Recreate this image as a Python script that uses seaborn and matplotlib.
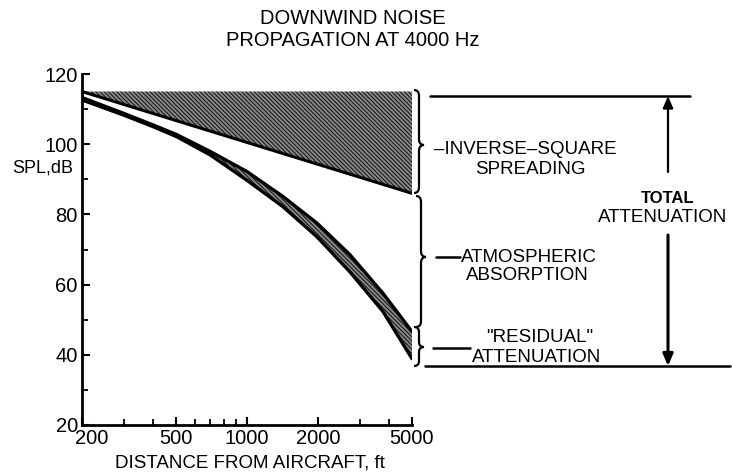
import numpy as np
import pandas as pd
import matplotlib
matplotlib.use("Agg")
import matplotlib.pyplot as plt
import seaborn as sns
from matplotlib.path import Path
from matplotlib.patches import PathPatch, FancyArrowPatch
from matplotlib.lines import Line2D
from matplotlib.transforms import Affine2D, ScaledTranslation

# ---- data ----
dist = [200, 300, 400, 505, 700, 1000, 1420, 1980, 2730, 3770, 5000]
band_upper = [113.3, 108.8, 105.5, 102.7, 97.9, 92.2, 85.1, 77.5, 68.5, 57.5, 46.6]
band_lower = [112.6, 108.3, 105.0, 102.1, 96.9, 89.7, 82.2, 73.6, 63.6, 52.3, 38.9]
inv_dist = [200, 5000]
inv_spl = [115, 86]
ref_spl = [115, 115]

x_major = [200, 500, 1000, 2000, 5000]
x_major_labels = ["200", "500", "1000", "2000", "5000"]
x_minor = [300, 400, 600, 700, 800, 900, 3000, 4000]
y_major = [20, 40, 60, 80, 100, 120]
y_minor = [30, 50, 70, 90, 110]

sns.set_style("ticks")
plt.rcParams["font.family"] = ["Liberation Sans", "DejaVu Sans"]
plt.rcParams["hatch.linewidth"] = 0.8
for k in ["text.color", "axes.labelcolor", "xtick.color", "ytick.color"]:
    plt.rcParams[k] = "black"

W, H = 732, 476
fig = plt.figure(figsize=(W / 100, H / 100), dpi=100)
ax = fig.add_axes([82 / W, 1 - 425 / H, (412 - 82) / W, (425 - 74) / H])

# shaded regions
hatch = "\\\\\\\\\\\\\\\\"
ax.fill_between(inv_dist, inv_spl, ref_spl, facecolor="#8a8a8a",
                edgecolor="#1a1a1a", hatch=hatch, linewidth=0)
ax.fill_between(dist, band_lower, band_upper, facecolor="#8a8a8a",
                edgecolor="#1a1a1a", hatch=hatch, linewidth=0)

df_inv = pd.DataFrame({"d": inv_dist, "spl": inv_spl})
df_band = pd.DataFrame({"d": dist, "up": band_upper, "lo": band_lower})
sns.lineplot(data=df_inv, x="d", y="spl", ax=ax, color="black", lw=2.2)
sns.lineplot(data=df_band, x="d", y="up", ax=ax, color="black", lw=2.4)
sns.lineplot(data=df_band, x="d", y="lo", ax=ax, color="black", lw=2.4)

ax.set_xscale("log")
ax.set_xlim(200, 5000)
ax.set_ylim(20, 120)
ax.set_xticks(x_major)
ax.set_xticklabels(x_major_labels)
ax.set_xticks(x_minor, minor=True)
ax.xaxis.set_minor_formatter(matplotlib.ticker.NullFormatter())
ax.set_yticks(y_major)
ax.set_yticks(y_minor, minor=True)
ax.tick_params(which="major", direction="in", length=6, width=1.5,
               labelsize=14.5, colors="black", pad=3)
ax.tick_params(which="minor", direction="in", length=4, width=1.3)
ax.set_xlabel("")
ax.set_ylabel("")
sns.despine(ax=ax)
for s in ["left", "bottom"]:
    ax.spines[s].set_linewidth(2)
    ax.spines[s].set_color("black")
# nudge the first x label right, as in the reference
lbl0 = ax.get_xticklabels()[0]
lbl0.set_transform(lbl0.get_transform() + ScaledTranslation(10 / 100, 0, fig.dpi_scale_trans))

# ---- annotations in figure pixel coordinates (origin top-left) ----
px = Affine2D().scale(1 / W, -1 / H).translate(0, 1) + fig.transFigure


def txt(x, y, s, ha="center", size=13.5, **kw):
    fig.text(x / W, 1 - y / H, s, ha=ha, va="center", fontsize=size, **kw)


def hline(x0, x1, y, lw=1.8):
    fig.add_artist(Line2D([x0, x1], [y, y], transform=px, color="black", lw=lw))


def brace(x, y0, y1, ym, w=10, r=6):
    verts = [(x, y0), (x + w / 2, y0), (x + w / 2, y0 + r),
             (x + w / 2, ym - r), (x + w / 2, ym), (x + w, ym),
             (x + w / 2, ym), (x + w / 2, ym + r),
             (x + w / 2, y1 - r), (x + w / 2, y1), (x, y1)]
    codes = [Path.MOVETO, Path.CURVE3, Path.CURVE3,
             Path.LINETO, Path.CURVE3, Path.CURVE3,
             Path.CURVE3, Path.CURVE3,
             Path.LINETO, Path.CURVE3, Path.CURVE3]
    fig.add_artist(PathPatch(Path(verts, codes), transform=px, fill=False,
                             edgecolor="black", lw=1.6))


# title
txt(353, 18, "DOWNWIND NOISE", size=14.5)
txt(353, 40, "PROPAGATION AT 4000 Hz", size=14.5)
# axis labels
txt(250, 463, "DISTANCE FROM AIRCRAFT, ft", size=13.5)
txt(43, 168, "SPL,dB", size=13)

# inverse-square spreading
brace(414, 90, 193, 145, w=10)
hline(430, 690, 96)
txt(434, 150, "–INVERSE–SQUARE", ha="left")
txt(530, 169, "SPREADING")

# atmospheric absorption
brace(416, 196, 327, 257, w=10)
hline(436, 460, 257)
txt(461, 257, "ATMOSPHERIC", ha="left")
txt(527, 275, "ABSORPTION")

# residual attenuation
brace(414, 327, 366, 347, w=10, r=5)
hline(433, 470, 348)
txt(540, 338, "\"RESIDUAL\"")
txt(537, 357, "ATTENUATION")
hline(425, 730, 366)

# total attenuation
fig.add_artist(FancyArrowPatch((668, 172), (668, 96), transform=px,
                               arrowstyle="-|>,head_length=7,head_width=3",
                               color="black", lw=1.6, shrinkA=0, shrinkB=0))
fig.add_artist(FancyArrowPatch((668, 235), (668, 366), transform=px,
                               arrowstyle="-|>,head_length=7,head_width=3",
                               color="black", lw=2.2, shrinkA=0, shrinkB=0))
txt(668, 198, "TOTAL", size=12, fontweight="bold")
txt(663, 218, "ATTENUATION")

fig.savefig("out.png", dpi=100)
